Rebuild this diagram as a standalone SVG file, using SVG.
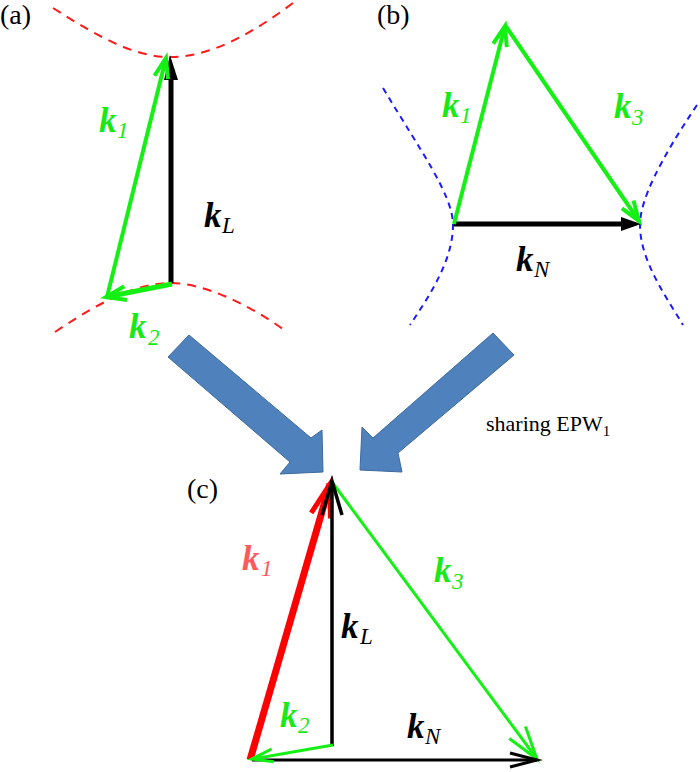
<svg xmlns="http://www.w3.org/2000/svg" width="700" height="772" viewBox="0 0 700 772">
<style>
.lab{font-family:"Liberation Serif","Times New Roman",serif;font-size:28px;fill:#000}
.sh{font-family:"Liberation Serif","Times New Roman",serif;font-size:22px;fill:#000}
.k{font-family:"Liberation Serif","Times New Roman",serif;font-weight:bold;font-style:italic;font-size:35px}
.s{font-weight:normal;font-style:italic;font-size:23px}
.g{fill:#18ea18}
.r{fill:#ff5a5a}
.b{fill:#000}
.rd{fill:none;stroke:#ff1a1a;stroke-width:2;stroke-dasharray:9 7}
.bd{fill:none;stroke:#1a1aff;stroke-width:2;stroke-dasharray:6 5}
.blk{fill:#4f81bd;stroke:#3d6a9c;stroke-width:1}
.gl{fill:none;stroke:#14f014}
.kl{fill:none;stroke:#000}
</style>
<defs>
<marker id="mGa" markerUnits="userSpaceOnUse" overflow="visible" orient="auto" refX="0" refY="0"><path d="M-20,-7 L0,0 L-20,7" fill="none" stroke="#14f014" stroke-width="4"/></marker>
<marker id="mGc" markerUnits="userSpaceOnUse" overflow="visible" orient="auto" refX="0" refY="0"><path d="M-33,-10 L0,0 L-33,10" fill="none" stroke="#14f014" stroke-width="3"/></marker>
<marker id="mGs" markerUnits="userSpaceOnUse" overflow="visible" orient="auto" refX="0" refY="0"><path d="M-21,-6.5 L0,0 L-21,6.5" fill="none" stroke="#14f014" stroke-width="3"/></marker>
<marker id="mR" markerUnits="userSpaceOnUse" overflow="visible" orient="auto" refX="0" refY="0"><path d="M-33,-10 L0,0 L-33,10" fill="none" stroke="#ff0000" stroke-width="5"/></marker>
<marker id="mKc" markerUnits="userSpaceOnUse" overflow="visible" orient="auto" refX="0" refY="0"><path d="M-34,-10 L0,0 L-34,10" fill="none" stroke="#000" stroke-width="3.5"/></marker>
<marker id="mKn" markerUnits="userSpaceOnUse" overflow="visible" orient="auto" refX="0" refY="0"><path d="M-27,-7 L0,0 L-27,7" fill="none" stroke="#000" stroke-width="3"/></marker>
</defs>
<rect width="700" height="772" fill="#fff"/>

<g id="panel-a">
<text class="lab" x="0" y="24">(a)</text>
<path class="rd" d="M53,8 C100,38 135,57 170,57 C210,57 250,35 293,3"/>
<path class="rd" d="M55,332 C95,305 135,283 170,283 C205,283 250,305 287,332"/>
<g id="a-kL"><line x1="171" y1="283" x2="171" y2="76" stroke="#000" stroke-width="5"/><polygon points="170,55 164,80 178,80" fill="#000"/></g>
<g id="a-k1"><line class="gl" x1="107" y1="297" x2="166" y2="58" stroke-width="4" marker-end="url(#mGa)"/></g>
<g id="a-k2"><line class="gl" x1="172" y1="284" x2="106" y2="297" stroke-width="5" marker-end="url(#mGa)"/></g>
<text class="k g" x="99" y="132">k<tspan class="s" x="117" y="138">1</tspan></text>
<text class="k b" x="204" y="227">k<tspan class="s" x="222" y="233">L</tspan></text>
<text class="k g" x="129" y="338">k<tspan class="s" x="148" y="345">2</tspan></text>
</g>

<g id="panel-b">
<text class="lab" x="377" y="24">(b)</text>
<path class="bd" d="M383,88 C420,150 453,195 453,225 C453,260 430,295 410,325"/>
<path class="bd" d="M697,105 C660,160 640,200 640,225 C640,260 665,295 683,325"/>
<g id="b-kN"><line x1="454" y1="224" x2="624" y2="224" stroke="#000" stroke-width="5"/><polygon points="641,224 621,217 621,231" fill="#000"/></g>
<g id="b-k1"><line class="gl" x1="454" y1="224" x2="505" y2="26" stroke-width="4" marker-end="url(#mGa)"/></g>
<g id="b-k3"><line class="gl" x1="505" y1="25" x2="639" y2="221" stroke-width="4" marker-end="url(#mGa)"/></g>
<text class="k g" x="442" y="117">k<tspan class="s" x="460" y="123">1</tspan></text>
<text class="k g" x="614" y="118">k<tspan class="s" x="632" y="125">3</tspan></text>
<text class="k b" x="516" y="271">k<tspan class="s" x="534" y="277">N</tspan></text>
</g>

<g id="block-arrows">
<polygon id="arrow-left" class="blk" points="168,357 189,335 311,438 322,430 323,472 280,474 290,462"/>
<polygon id="arrow-right" class="blk" points="493,333 514,355 398,453 402,472 360,470 362,427 373,438"/>
<text class="sh" x="486" y="431">sharing EPW<tspan style="font-size:15px" dy="5">1</tspan></text>
</g>

<g id="panel-c">
<text class="lab" x="187" y="498">(c)</text>
<g id="c-connectors">
<line x1="250" y1="760" x2="330" y2="484" stroke="#ff0000" stroke-width="7" marker-end="url(#mR)"/>
<line class="gl" x1="332" y1="482" x2="537" y2="759" stroke-width="3" marker-end="url(#mGc)"/>
<line class="kl" x1="252" y1="760" x2="537" y2="760" stroke-width="3" marker-end="url(#mKn)"/>
<line class="kl" x1="332" y1="746" x2="332" y2="481" stroke-width="3.5" marker-end="url(#mKc)"/>
<line class="gl" x1="333" y1="745" x2="252" y2="759" stroke-width="3" marker-end="url(#mGs)"/>
</g>
<text class="k r" x="242" y="570">k<tspan class="s" x="261" y="576">1</tspan></text>
<text class="k g" x="434" y="582">k<tspan class="s" x="452" y="589">3</tspan></text>
<text class="k b" x="341" y="638">k<tspan class="s" x="360" y="644">L</tspan></text>
<text class="k g" x="280" y="727">k<tspan class="s" x="298" y="733">2</tspan></text>
<text class="k b" x="407" y="738">k<tspan class="s" x="425" y="744">N</tspan></text>
</g>
</svg>
